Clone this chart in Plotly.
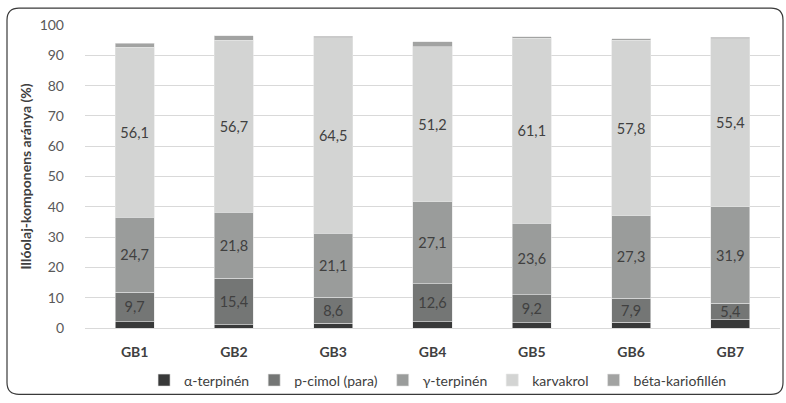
import plotly.graph_objects as go

# Essential oil composition per sample (%)
samples = ["GB1", "GB2", "GB3", "GB4", "GB5", "GB6", "GB7"]
alpha_terpinen = [2.1, 1.0, 1.6, 2.0, 1.8, 1.9, 2.7]
p_cimol = [9.7, 15.4, 8.6, 12.6, 9.2, 7.9, 5.4]
gamma_terpinen = [24.7, 21.8, 21.1, 27.1, 23.6, 27.3, 31.9]
karvakrol = [56.1, 56.7, 64.5, 51.2, 61.1, 57.8, 55.4]
beta_kariofillen = [1.4, 1.5, 0.5, 1.5, 0.5, 0.6, 0.5]

y_ticks = list(range(0, 101, 10))


def hu(values):
    return [f"{v:.1f}".replace(".", ",") for v in values]


series = [
    ("α-terpinén", alpha_terpinen, "#383939", False),
    ("p-cimol (para)", p_cimol, "#747675", True),
    ("γ-terpinén", gamma_terpinen, "#9a9c9b", True),
    ("karvakrol", karvakrol, "#d3d4d3", True),
    ("béta-kariofillén", beta_kariofillen, "#a2a3a2", False),
]

FONT = "Lato, 'Open Sans', sans-serif"
TXT = "#404040"

fig = go.Figure()
for name, vals, color, labelled in series:
    fig.add_trace(go.Bar(
        name=name,
        x=samples,
        y=vals,
        marker=dict(color=color, line=dict(color="#e4e4e4", width=0.6)),
        text=hu(vals) if labelled else None,
        textposition="inside" if labelled else "none",
        insidetextanchor="middle",
        textangle=0,
        constraintext="none",
        textfont=dict(family=FONT, size=14.5, color=TXT),
        hoverinfo="name+y",
    ))

# Rounded outer frame (paper coordinates)
L, R, T, B = 85, 780, 25, 331
pw, ph = R - L, B - T


def px(x):
    return (x - L) / pw


def py(y):
    return (B - y) / ph


x0, x1, y0, y1, r = 7, 783, 8, 398, 12
path = (
    f"M {px(x0 + r)},{py(y0)} L {px(x1 - r)},{py(y0)} "
    f"Q {px(x1)},{py(y0)} {px(x1)},{py(y0 + r)} "
    f"L {px(x1)},{py(y1 - r)} Q {px(x1)},{py(y1)} {px(x1 - r)},{py(y1)} "
    f"L {px(x0 + r)},{py(y1)} Q {px(x0)},{py(y1)} {px(x0)},{py(y1 - r)} "
    f"L {px(x0)},{py(y0 + r)} Q {px(x0)},{py(y0)} {px(x0 + r)},{py(y0)} Z"
)

fig.update_layout(
    width=786,
    height=403,
    barmode="stack",
    bargap=0.607,
    plot_bgcolor="white",
    paper_bgcolor="white",
    margin=dict(l=L, r=786 - R, t=T, b=403 - B),
    font=dict(family=FONT, color=TXT, size=14),
    showlegend=True,
    legend=dict(
        orientation="h",
        x=0.508,
        xanchor="center",
        y=py(384),
        yanchor="middle",
        font=dict(family=FONT, size=14, color=TXT),
        traceorder="normal",
        itemwidth=30,
        bgcolor="rgba(0,0,0,0)",
    ),
    xaxis=dict(
        showgrid=False,
        showline=False,
        ticks="",
        tickfont=dict(family=FONT, size=14, color=TXT, weight="bold"),
        ticklabelstandoff=14,
        fixedrange=True,
    ),
    yaxis=dict(
        range=[0, 100],
        tickvals=y_ticks,
        showgrid=True,
        gridcolor="#d9d9d9",
        gridwidth=1,
        zeroline=True,
        zerolinecolor="#d9d9d9",
        zerolinewidth=1,
        ticks="",
        ticklabelstandoff=20,
        tickfont=dict(family=FONT, size=14, color="#595959"),
        title=dict(
            text="<b>Illóolaj-komponens aránya (%)</b>",
            font=dict(family=FONT, size=14, color=TXT),
            standoff=4,
        ),
        fixedrange=True,
    ),
    shapes=[dict(
        type="path", xref="paper", yref="paper", path=path,
        line=dict(color="#3a3a3a", width=1.2), fillcolor="rgba(0,0,0,0)",
        layer="below",
    )],
)

fig.write_html("out.html")
